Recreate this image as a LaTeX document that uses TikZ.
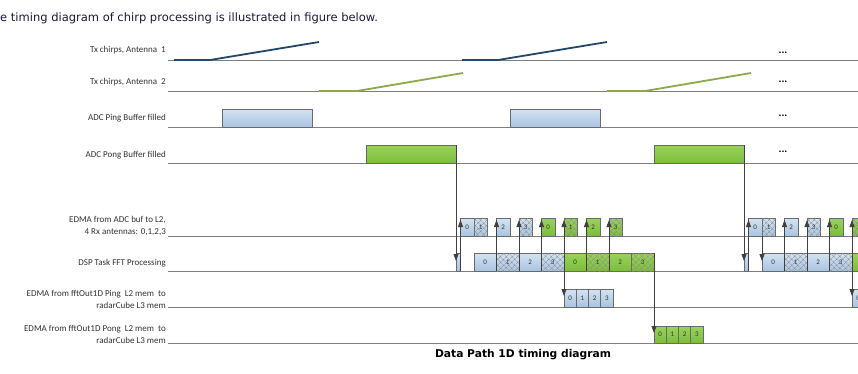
\documentclass[tikz,border=0pt]{standalone}
\usepackage{fontspec}
\setmainfont{Carlito}
\newfontfamily\dejavu{DejaVu Sans}
\usetikzlibrary{arrows.meta,patterns.meta}
\definecolor{bluetop}{HTML}{D4E3F2}
\definecolor{bluebot}{HTML}{A8C3E0}
\definecolor{greentop}{HTML}{9AD25C}
\definecolor{greenbot}{HTML}{7BBE3A}
\definecolor{edgec}{HTML}{6A6A6A}
\definecolor{rowline}{HTML}{7E7E7E}
\definecolor{chirpblue}{HTML}{23476B}
\definecolor{chirpgreen}{HTML}{8CAA4A}
\definecolor{arrowc}{HTML}{404040}
\definecolor{labelc}{HTML}{333333}
\definecolor{introc}{HTML}{1A1A40}
\tikzset{
  boxbase/.style={draw=edgec, line width=0.7pt, inner sep=0pt, outer sep=0pt,
    anchor=south west, font=\fontsize{7}{7}\selectfont, text=labelc},
  bluebox/.style={boxbase, top color=bluetop, bottom color=bluebot},
  greenbox/.style={boxbase, top color=greentop, bottom color=greenbot},
  hatchfill/.style={postaction={pattern={Hatch[angle=45,distance=4pt,line width=0.35pt]}, pattern color=gray!90}},
  bluehatch/.style={bluebox, hatchfill},
  greenhatch/.style={greenbox, hatchfill},
  rowln/.style={draw=rowline, line width=0.8pt},
  lbl/.style={anchor=east, align=right, inner sep=0pt, text=labelc, font=\fontsize{9}{12}\selectfont},
  arr/.style={draw=arrowc, line width=0.8pt, -{Triangle[length=7pt,width=5pt]}},
  chirpa/.style={draw=chirpblue, line width=1.8pt},
  chirpb/.style={draw=chirpgreen, line width=1.8pt},
  ell/.style={inner sep=0pt, font=\fontsize{11}{11}\selectfont\bfseries}
}
\begin{document}
\begin{tikzpicture}[x=1pt,y=-1pt]
\useasboundingbox (0,0) rectangle (858,373);
\clip (0,0) rectangle (858,373);
\fill[white] (0,0) rectangle (858,373);

\node[anchor=west, inner sep=0pt, text=introc, font=\dejavu\fontsize{11.5}{13}\selectfont] (intro) at (0,18) {e timing diagram of chirp processing is illustrated in figure below.};

% row lines
\foreach \y in {60,91,127,163,236,271,307,343}
  \draw[rowln] (168,\y) -- (858,\y);

% labels
\node[lbl] (l1) at (166,50) {Tx chirps, Antenna\ \ 1};
\node[lbl] (l2) at (166,82) {Tx chirps, Antenna\ \ 2};
\node[lbl] (l3) at (166,118) {ADC Ping Buffer filled};
\node[lbl] (l4) at (166,155) {ADC Pong Buffer filled};
\node[lbl] (l5) at (166,226) {EDMA from ADC buf to L2,\\4 Rx antennas: 0,1,2,3};
\node[lbl] (l6) at (166,263) {DSP Task FFT Processing};
\node[lbl] (l7) at (166,299) {EDMA from fftOut1D Ping\ \ L2 mem\ \ to\\radarCube L3 mem};
\node[lbl] (l8) at (166,334) {EDMA from fftOut1D Pong\ \ L2 mem\ \ to\\radarCube L3 mem};

% ellipses
\node[ell] (el1) at (783,53) {...};
\node[ell] (el2) at (783,82) {...};
\node[ell] (el3) at (783,116) {...};
\node[ell] (el4) at (783,152) {...};

\foreach \c/\o in {1/0,2/288} {
  % chirps
  \draw[chirpa, line join=round] (174+\o,60) -- (210+\o,60) -- (319+\o,42);
  \draw[chirpb, line join=round] (319+\o,91) -- (357+\o,91) -- (463+\o,73);
  % ADC buffers
  \node[bluebox, minimum width=90pt, minimum height=18pt] (ping\c) at (222+\o,127) {};
  \node[greenbox, minimum width=90pt, minimum height=18pt] (pong\c) at (366+\o,163) {};
  % short DSP task
  \node[bluebox, minimum width=4.5pt, minimum height=18pt] (s\c) at (456+\o,271) {};
  % EDMA ADC -> L2
  \foreach \k/\x/\l/\st in {0/460.5/0/bluebox,1/474/1/bluehatch,2/496.5/2/bluebox,3/519/3/bluehatch,4/541.5/0/greenbox,5/564/1/greenhatch,6/586.5/2/greenbox,7/609/3/greenhatch}
    \node[\st, minimum width=13.5pt, minimum height=18pt] (e\c-\k) at (\x+\o,236) {\l};
  % DSP FFT
  \foreach \k/\l/\st in {0/0/bluebox,1/1/bluehatch,2/2/bluebox,3/3/bluehatch,4/0/greenbox,5/1/greenhatch,6/2/greenbox,7/3/greenhatch}
    \node[\st, minimum width=22.5pt, minimum height=18pt] (d\c-\k) at (474+22.5*\k+\o,271) {\l};
  % EDMA ping / pong out
  \foreach \k in {0,...,3} {
    \node[bluebox, minimum width=12.25pt, minimum height=18pt] (p\c-\k) at (564+12.25*\k+\o,307) {\k};
    \node[greenbox, minimum width=12.25pt, minimum height=17pt] (q\c-\k) at (654+12.25*\k+\o,343) {\k};
  }
  % arrows
  \draw[arr] (pong\c.north east) -- ([yshift=-8pt]s\c.north west);
  \draw[arr] (s\c.south east) -- ([yshift=-2pt]e\c-0.north west);
  \foreach \k/\j in {0/2,1/3,2/4,3/5,4/6,5/7}
    \draw[arr] (d\c-\k.south east) -- ([yshift=-2pt]e\c-\j.north west);
  \draw[arr] (d\c-3.south east) -- ([yshift=-7pt]p\c-0.north west);
  \draw[arr] (d\c-7.north east) -- ([yshift=-7pt]q\c-0.north west);
}
\draw[arr] (e2-1.south west) -- ([yshift=-8pt]d2-0.north west);

\node[inner sep=0pt, font=\dejavu\bfseries\fontsize{10.7}{12}\selectfont] (cap) at (523,355) {Data Path 1D timing diagram};
\end{tikzpicture}
\end{document}
